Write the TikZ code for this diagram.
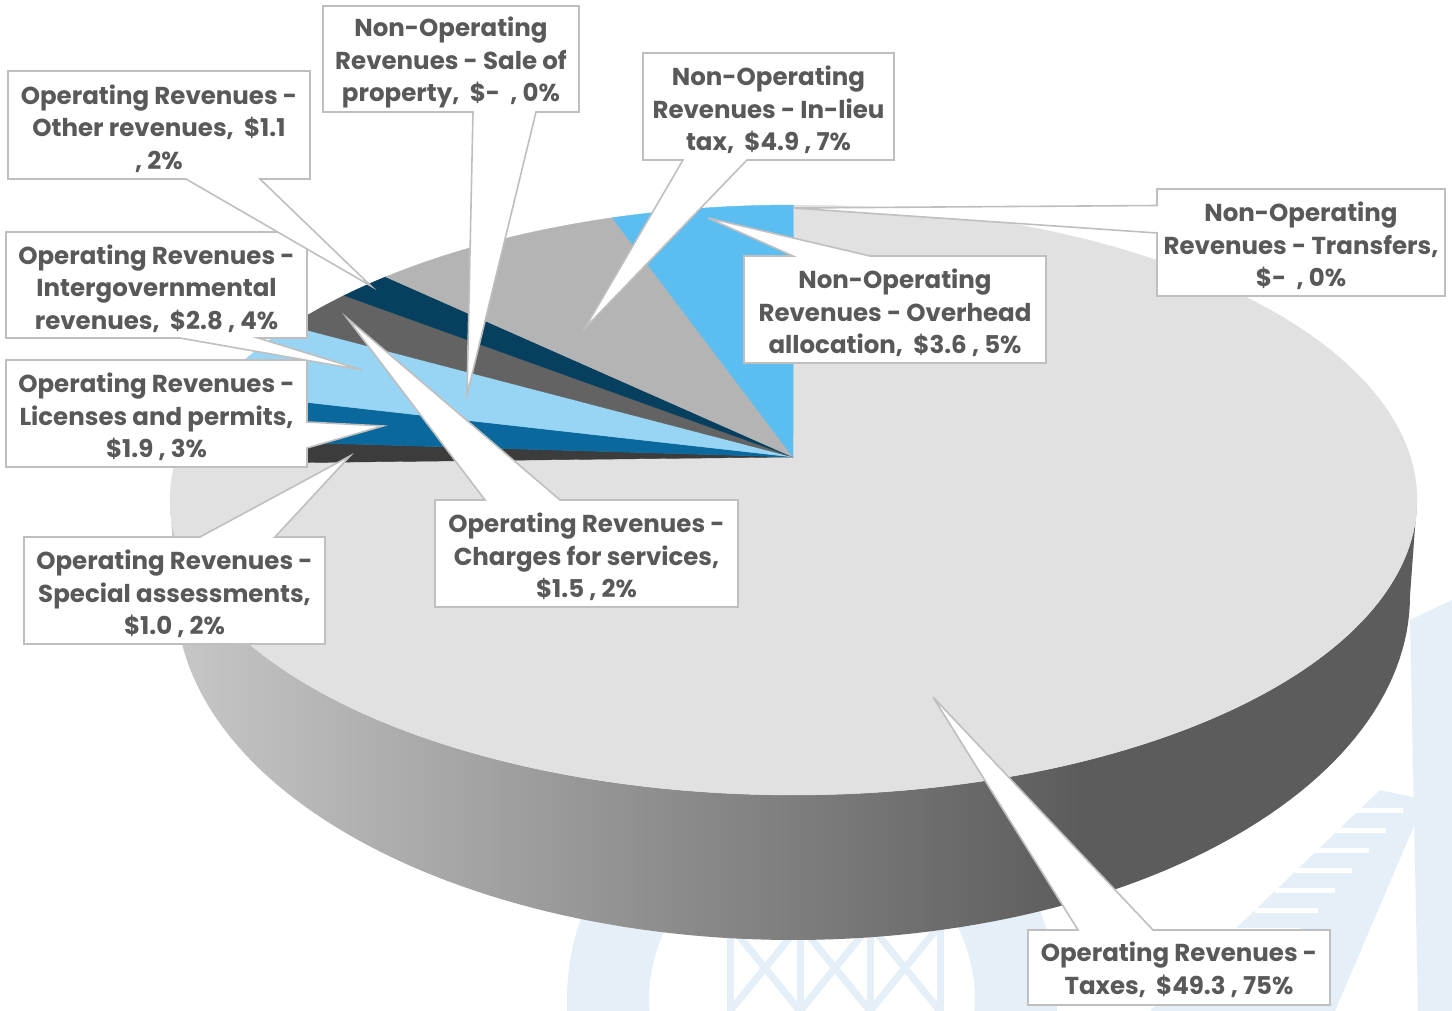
\documentclass[tikz,border=0pt]{standalone}
\usepackage{fontspec}
\setmainfont{Poppins}
\definecolor{txt}{HTML}{595959}
\definecolor{bord}{HTML}{BFBFBF}
\definecolor{ctax}{HTML}{E1E1E1}
\definecolor{cspec}{HTML}{3C3C3C}
\definecolor{clic}{HTML}{0A689D}
\definecolor{cint}{HTML}{98D5F4}
\definecolor{cchg}{HTML}{636363}
\definecolor{coth}{HTML}{073F5E}
\definecolor{clieu}{HTML}{B4B4B4}
\definecolor{cover}{HTML}{5BBDF0}
\definecolor{sideL}{HTML}{C8C8C8}
\definecolor{sideR}{HTML}{5C5C5C}
\definecolor{wm}{HTML}{E5EFF7}
\pgfdeclarelayer{wmark}
\pgfdeclarelayer{pie}
\pgfdeclarelayer{callouts}
\pgfsetlayers{wmark,pie,callouts,main}
\begin{document}
\begin{tikzpicture}[x=1pt,y=-1pt,
  box/.style={inner sep=0pt, outer sep=0pt},
  lbl/.style={font=\fontsize{24.5}{32.5}\selectfont\bfseries, text=txt, align=center,
    inner sep=0pt, outer sep=0pt},
  callout/.style={fill=white, draw=bord, line width=1.6pt, line join=miter},
  slice/.style={line width=0.4pt}]
\useasboundingbox (0,0) rectangle (1452,1011);

% ---------- watermark ----------
\begin{pgfonlayer}{wmark}
\fill[white] (0,0) rectangle (1452,1011);
\fill[wm, even odd rule] (812,1000) circle[radius=245pt] (812,1000) circle[radius=163pt];
\begin{scope}[wm, line width=7pt]
\draw (730,1011) -- (730,925) (800,1011) -- (800,925) (870,1011) -- (870,925) (940,1011) -- (940,925);
\draw (730,1011) -- (800,925) (730,925) -- (800,1011);
\draw (800,1011) -- (870,925) (800,925) -- (870,1011);
\draw (870,1011) -- (940,925) (870,925) -- (940,1011);
\end{scope}
\fill[wm] (1410,620) -- (1452,600) -- (1452,1011) -- (1418,1011) -- cycle;
\fill[wm] (1150,1011) -- (1380,790) -- (1425,800) -- (1335,1011) -- cycle;
\begin{scope}[white, line width=5pt]
\foreach \k in {0,...,9} {
  \draw ({1175+20*\k},{990-20*\k}) -- ({1250+17*\k},{990-20*\k});
}
\end{scope}
\end{pgfonlayer}

% ---------- pie ----------
\begin{pgfonlayer}{pie}
\coordinate (apex) at (793,457);
\begin{scope}
\clip (170,500) -- (176,596)
  -- plot[domain=180:0, samples=120] ({793+617*cos(\x)},{596+344*sin(\x)})
  -- (1417,500)
  -- plot[domain=0:180, samples=120] ({793.5+623.5*cos(\x)},{500+295*sin(\x)}) -- cycle;
\shade[left color=sideL, right color=sideR] (165,480) rectangle (1080,960);
\fill[sideR] (1079,480) rectangle (1425,960);
\end{scope}
\fill[ctax, draw=ctax, slice] (apex) -- plot[domain=-90:187, samples=200] ({793.5+623.5*cos(\x)},{500+295*sin(\x)}) -- cycle;
\fill[cspec, draw=cspec, slice] (apex) -- plot[domain=187:191.9, samples=10] ({793.5+623.5*cos(\x)},{500+295*sin(\x)}) -- cycle;
\fill[clic, draw=clic, slice] (apex) -- plot[domain=191.9:201.5, samples=15] ({793.5+623.5*cos(\x)},{500+295*sin(\x)}) -- cycle;
\fill[cint, draw=cint, slice] (apex) -- plot[domain=201.5:216.2, samples=20] ({793.5+623.5*cos(\x)},{500+295*sin(\x)}) -- cycle;
\fill[cchg, draw=cchg, slice] (apex) -- plot[domain=216.2:223.9, samples=12] ({793.5+623.5*cos(\x)},{500+295*sin(\x)}) -- cycle;
\fill[coth, draw=coth, slice] (apex) -- plot[domain=223.9:229.15, samples=10] ({793.5+623.5*cos(\x)},{500+295*sin(\x)}) -- cycle;
\fill[clieu, draw=clieu, slice] (apex) -- plot[domain=229.15:253.1, samples=30] ({793.5+623.5*cos(\x)},{500+295*sin(\x)}) -- cycle;
\fill[cover, draw=cover, slice] (apex) -- plot[domain=253.1:270, samples=20] ({793.5+623.5*cos(\x)},{500+295*sin(\x)}) -- cycle;
\end{pgfonlayer}

% ---------- tips ----------
\coordinate (ttax) at (933,697);
\coordinate (tspec) at (350,456);
\coordinate (tlic) at (383,426);
\coordinate (tint) at (362,370);
\coordinate (tchg) at (347,318);
\coordinate (toth) at (371,286);
\coordinate (tsale) at (467,395);
\coordinate (tlieu) at (585,328);
\coordinate (tover) at (708,218);
\coordinate (ttra) at (793,208);

% ---------- label boxes ----------
\node[box, minimum width=302pt, minimum height=75pt] (tax) at (1179,967.5) {};
\node[box, minimum width=301pt, minimum height=107pt] (spec) at (174.5,590.5) {};
\node[box, minimum width=301pt, minimum height=107pt] (lic) at (156.5,413.5) {};
\node[box, minimum width=301pt, minimum height=106pt] (int) at (156.5,285) {};
\node[box, minimum width=303pt, minimum height=107pt] (chg) at (586.5,553.5) {};
\node[box, minimum width=302pt, minimum height=108pt] (oth) at (159,125) {};
\node[box, minimum width=256pt, minimum height=106pt] (sale) at (451,59) {};
\node[box, minimum width=251pt, minimum height=107pt] (lieu) at (768.5,106.5) {};
\node[box, minimum width=302pt, minimum height=107pt] (over) at (895,309.5) {};
\node[box, minimum width=288pt, minimum height=107pt] (tra) at (1301,242.5) {};

% ---------- label texts ----------
\node[lbl] (tax-t) at ([yshift=-2.5pt]tax.center) {Operating Revenues -\\Taxes,~~\$49.3 , 75\%};
\node[lbl] (spec-t) at ([yshift=-3.5pt]spec.center) {Operating Revenues -\\Special assessments,\\\$1.0 , 2\%};
\node[lbl] (lic-t) at ([yshift=-3.5pt]lic.center) {Operating Revenues -\\Licenses and permits,\\\$1.9 , 3\%};
\node[lbl] (int-t) at ([yshift=-3.5pt]int.center) {Operating Revenues -\\Intergovernmental\\revenues,~~\$2.8 , 4\%};
\node[lbl] (chg-t) at ([yshift=-3.5pt]chg.center) {Operating Revenues -\\Charges for services,\\\$1.5 , 2\%};
\node[lbl] (oth-t) at ([yshift=-3.5pt]oth.center) {Operating Revenues -\\Other revenues,~~\$1.1\\, 2\%};
\node[lbl] (sale-t) at ([yshift=-3.5pt]sale.center) {Non-Operating\\Revenues - Sale of\\property,~~\$-~~, 0\%};
\node[lbl] (lieu-t) at ([yshift=-3.5pt]lieu.center) {Non-Operating\\Revenues - In-lieu\\tax,~~\$4.9 , 7\%};
\node[lbl] (over-t) at ([yshift=-3.5pt]over.center) {Non-Operating\\Revenues - Overhead\\allocation,~~\$3.6 , 5\%};
\node[lbl] (tra-t) at ([yshift=-3.5pt]tra.center) {Non-Operating\\Revenues - Transfers,\\\$-~~, 0\%};

% ---------- callout shapes ----------
\begin{pgfonlayer}{callouts}
\path[callout] (tax.north west) -- ([xshift=50pt]tax.north west) -- (ttax) -- ([xshift=125pt]tax.north west) -- (tax.north east) -- (tax.south east) -- (tax.south west) -- cycle;
\path[callout] (spec.north west) -- ([xshift=176pt]spec.north west) -- (tspec) -- ([xshift=251pt]spec.north west) -- (spec.north east) -- (spec.south east) -- (spec.south west) -- cycle;
\path[callout] (lic.north west) -- (lic.north east) -- ([yshift=-62pt]lic.north east) -- (tlic) -- ([yshift=-88pt]lic.north east) -- (lic.south east) -- (lic.south west) -- cycle;
\path[callout] (int.north west) -- (int.north east) -- (int.south east) -- ([xshift=252pt]int.south west) -- (tint) -- ([xshift=174pt]int.south west) -- (int.south west) -- cycle;
\path[callout] (chg.north west) -- ([xshift=50pt]chg.north west) -- (tchg) -- ([xshift=125pt]chg.north west) -- (chg.north east) -- (chg.south east) -- (chg.south west) -- cycle;
\path[callout] (oth.north west) -- (oth.north east) -- (oth.south east) -- ([xshift=252pt]oth.south west) -- (toth) -- ([xshift=178pt]oth.south west) -- (oth.south west) -- cycle;
\path[callout] (sale.north west) -- (sale.north east) -- (sale.south east) -- ([xshift=213pt]sale.south west) -- (tsale) -- ([xshift=150pt]sale.south west) -- (sale.south west) -- cycle;
\path[callout] (lieu.north west) -- (lieu.north east) -- (lieu.south east) -- ([xshift=104pt]lieu.south west) -- (tlieu) -- ([xshift=40pt]lieu.south west) -- (lieu.south west) -- cycle;
\path[callout] (over.north west) -- ([xshift=49pt]over.north west) -- (tover) -- ([xshift=126pt]over.north west) -- (over.north east) -- (over.south east) -- (over.south west) -- cycle;
\path[callout] (tra.north west) -- (tra.north east) -- (tra.south east) -- (tra.south west) -- ([yshift=-44pt]tra.north west) -- (ttra) -- ([yshift=-16.5pt]tra.north west) -- cycle;
\end{pgfonlayer}
\end{tikzpicture}
\end{document}
